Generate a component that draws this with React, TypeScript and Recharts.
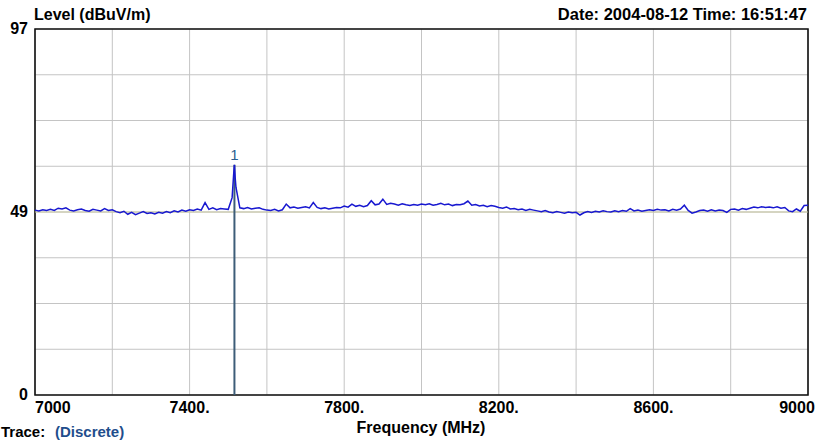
import React from 'react'
import { LineChart, Line, XAxis, YAxis, CartesianGrid, ReferenceLine, ReferenceArea, ReferenceDot } from 'recharts'

// sweep 7000 - 9000 MHz, one reading every 10 MHz (dBuV/m)
const sweepStart = 7000
const sweepStep = 10
const levels = [
  49.0, 48.8, 49.1, 48.9, 49.2, 48.9, 49.5, 49.3, 49.6, 49.0,
  48.8, 49.1, 49.3, 48.9, 48.7, 49.2, 49.0, 48.8, 49.4, 48.9,
  49.1, 48.6, 48.3, 48.7, 47.9, 48.4, 47.8, 48.2, 48.6, 48.1,
  48.3, 48.0, 48.4, 48.2, 48.6, 48.3, 48.8, 48.5, 49.0, 48.7,
  49.1, 48.9, 49.3, 49.0, 51.0, 49.2, 49.6, 49.1, 49.4, 49.3,
  49.2, 52.3, 55.0, 49.6, 49.4, 49.7, 49.3, 49.5, 49.6, 49.2,
  49.0, 48.9, 49.2, 48.8, 49.1, 50.6, 49.6, 49.8, 49.5, 49.7,
  49.9, 49.6, 51.0, 49.7, 49.4, 49.6, 49.3, 49.5, 49.7, 49.6,
  50.1, 49.8, 50.6, 50.0, 50.3, 49.9, 50.2, 51.5, 50.4, 50.6,
  51.9, 50.5, 50.8, 50.6, 50.3, 50.7, 50.4, 50.2, 50.5, 50.3,
  50.6, 50.4, 50.7, 50.3, 50.5, 50.8, 50.4, 50.6, 50.2, 50.5,
  50.4, 50.7, 51.4, 50.3, 50.5, 50.1, 50.3, 49.9, 50.2, 50.0,
  49.7, 49.5, 49.8, 49.3, 49.4, 49.1, 49.3, 48.9, 49.2, 49.0,
  48.8, 48.6, 48.9, 48.5, 48.3, 48.6, 48.4, 48.2, 48.5, 48.3,
  48.4, 47.7, 48.3, 48.6, 48.4, 48.7, 48.5, 48.8, 48.6, 48.5,
  48.8, 48.6, 48.9, 48.7, 49.4, 48.8, 49.0, 48.7, 48.9, 49.1,
  48.9, 49.2, 49.0, 49.1, 48.8, 49.2, 49.0, 49.3, 50.3, 48.9,
  48.2, 48.5, 48.9, 49.0, 48.7, 49.1, 48.8, 49.0, 48.9, 48.4,
  49.2, 49.3, 49.0, 49.4, 49.2, 49.5, 49.8, 49.6, 49.9, 49.7,
  49.8, 49.6, 49.9, 49.5, 49.7, 48.8, 48.6, 49.3, 48.7, 50.2,
  50.3,
]

// extra readings round marker 1 (the signal peak)
const markerPeak = [
  { freq: 7514, level: 58.5 },
  { freq: 7516, level: 61.0 },
  { freq: 7518, level: 57.5 },
]
const markerFreq = 7516
const markerLevel = 61.0

const freqTicks = [7000, 7200, 7400, 7600, 7800, 8000, 8200, 8400, 8600, 8800, 9000]
const freqLabels: Record<number, string> = {
  7000: '7000', 7400: '7400.', 7800: '7800.', 8200: '8200.', 8600: '8600.', 9000: '9000',
}
const levelTicks = [0, 12.125, 24.25, 36.375, 48.5, 60.625, 72.75, 84.875, 97]
const levelLabels: Record<number, string> = { 0: '0', 48.5: '49', 97: '97' }

const font = '"Liberation Sans", Arial, Helvetica, sans-serif'

const data = levels
  .map((level, i) => ({ freq: sweepStart + i * sweepStep, level }))
  .concat(markerPeak)
  .sort((a, b) => a.freq - b.freq)

const FreqTick = (props: any) => {
  const { x, payload } = props
  const label = freqLabels[payload.value]
  if (!label) return <g />
  let anchor = 'middle'
  let dx = 0
  if (payload.value === 7000) anchor = 'start'
  if (payload.value === 9000) dx = -11
  return (
    <text x={x + dx} y={413} textAnchor={anchor} fontFamily={font} fontWeight="bold" fontSize={16} fill="#000">
      {label}
    </text>
  )
}

const LevelTick = (props: any) => {
  const { y, payload } = props
  const label = levelLabels[payload.value]
  if (!label) return <g />
  return (
    <text x={28} y={y + 5} textAnchor="end" fontFamily={font} fontWeight="bold" fontSize={16} fill="#000">
      {label}
    </text>
  )
}

export default function App() {
  return (
    <div style={{ position: 'absolute', left: 0, top: 0, width: 821, height: 441, overflow: 'hidden', background: '#fff' }}>
      <LineChart width={821} height={441} data={data} margin={{ top: 29, right: 13, left: 0, bottom: 0 }}>
        <CartesianGrid stroke="#c4c4c4" strokeWidth={1} />
        <XAxis
          dataKey="freq"
          type="number"
          domain={[7000, 9000]}
          ticks={freqTicks}
          interval={0}
          height={46}
          axisLine={false}
          tickLine={false}
          tick={<FreqTick />}
        />
        <YAxis
          type="number"
          domain={[0, 97]}
          ticks={levelTicks}
          interval={0}
          width={35}
          axisLine={false}
          tickLine={false}
          tick={<LevelTick />}
        />
        <ReferenceLine y={48.5} stroke="#c9c8a2" strokeWidth={1} />
        <ReferenceLine
          segment={[{ x: markerFreq, y: 0 }, { x: markerFreq, y: markerLevel }]}
          stroke="#3d5d78"
          strokeWidth={2}
        />
        <Line
          type="linear"
          dataKey="level"
          stroke="#1818d0"
          strokeWidth={1.5}
          dot={false}
          isAnimationActive={false}
        />
        <ReferenceDot
          x={markerFreq}
          y={markerLevel}
          r={0}
          label={{ value: '1', position: 'top', fill: '#2c5f8f', fontSize: 15, fontFamily: font }}
        />
        <ReferenceArea x1={7000} x2={9000} y1={0} y2={97} fill="none" stroke="#111" strokeWidth={1.6} />
      </LineChart>

      {/* captions round the plot */}
      <svg width={821} height={441} style={{ position: 'absolute', left: 0, top: 0, pointerEvents: 'none' }}>
        <text x={34} y={20} fontFamily={font} fontWeight="bold" fontSize={16} fill="#000">
          Level (dBuV/m)
        </text>
        <text x={807} y={20} textAnchor="end" fontFamily={font} fontWeight="bold" fontSize={16.5} fill="#000">
          Date: 2004-08-12  Time: 16:51:47
        </text>
        <text x={421} y={433} textAnchor="middle" fontFamily={font} fontWeight="bold" fontSize={16} fill="#000">
          Frequency (MHz)
        </text>
        <text x={1} y={437} fontFamily={font} fontWeight="bold" fontSize={15} fill="#000">
          Trace:
        </text>
        <text x={55} y={437} fontFamily={font} fontWeight="bold" fontSize={15} fill="#1f4e8c">
          (Discrete)
        </text>
      </svg>
    </div>
  )
}
